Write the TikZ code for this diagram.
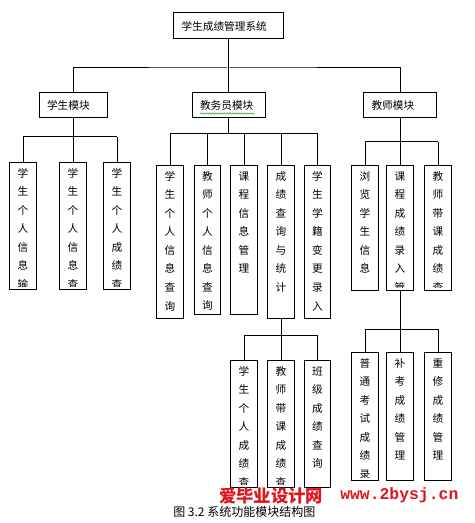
\documentclass[tikz,border=0pt]{standalone}
\usepackage{fontspec}
\newfontfamily\cjk{Noto Sans CJK SC}
\newfontfamily\wmono{Liberation Mono}
\usetikzlibrary{decorations.pathmorphing}
\definecolor{wmred}{RGB}{225,20,25}
\definecolor{spellgreen}{RGB}{40,150,40}
\XeTeXlinebreaklocale "zh"
\XeTeXlinebreakskip=0pt plus 1pt

\tikzset{
  modbox/.style={draw, line width=0.75pt, minimum height=18.75pt, inner xsep=6pt,
    inner ysep=0pt, align=left, font=\cjk\fontsize{8}{10}\selectfont},
  leafbox/.style={draw, line width=0.75pt, minimum width=20pt, inner sep=0pt, anchor=north},
  leaftext/.style={anchor=north, inner sep=0pt, text width=9pt, align=center,
    font=\cjk\fontsize{8}{13.9}\selectfont},
  link/.style={line width=0.75pt},
}

\begin{document}
\begin{tikzpicture}[x=0.75pt, y=-0.75pt]
  \useasboundingbox (0,0) rectangle (474,523);

  % Top level
  \node[modbox, text width=70.5pt, minimum height=19.5pt] (root) at (228.5,26) {学生成绩管理系统};

  % Module boxes
  \node[modbox, text width=39pt] (stu) at (73,105.5) {学生模块};
  \node[modbox, text width=42.75pt] (adm) at (228.5,105.5) {教务员模块};
  \node[modbox, text width=42.75pt] (tea) at (400,105.5) {教师模块};

  % spell-check squiggle under the admin label
  \draw[spellgreen, line width=0.4pt, decorate,
    decoration={snake, amplitude=0.5pt, segment length=2.2pt}] (200,113.5) -- (254,113.5);

  % Bus lines
  \coordinate (bus0) at (228.5,68);
  \coordinate (busS) at (73,137);
  \coordinate (busA) at (228.5,134);
  \coordinate (busT) at (400,142);
  \coordinate (busB) at (281,335);
  \coordinate (busC) at (400,329);

  % Function boxes, text clipped at the lower edge as in the original
  \foreach \nm/\cx/\top/\bot/\bus/\txt in {
    s1/23/162/289/busS/学生个人信息输,
    s2/73/162/289/busS/学生个人信息查,
    s3/117/162/289/busS/学生个人成绩查,
    a1/170/165/318/busA/学生个人信息查询,
    a2/207.5/165/314/busA/教师个人信息查询,
    a3/244/165/314/busA/课程信息管理,
    a4/281/165/318/busA/成绩查询与统计,
    a5/317.5/165/318/busA/学生学籍变更录入,
    t1/365/165/290/busT/浏览学生信息,
    t2/400/165/290/busT/课程成绩录入管,
    t3/438/165/290/busT/教师带课成绩查,
    b1/244/360/487/busB/学生个人成绩查,
    b2/281/360/487/busB/教师带课成绩查,
    b3/317.5/360/487/busB/班级成绩查询,
    c1/365/352/480/busC/普通考试成绩录,
    c2/400/352/480/busC/补考成绩管理,
    c3/438/352/480/busC/重修成绩管理
  }{
    \pgfmathsetmacro\hgt{(\bot-\top)*0.75}
    \node[leafbox, minimum height=\hgt pt] (\nm) at (\cx,\top) {};
    \begin{scope}
      \clip (\nm.north west) rectangle ([yshift=2.5pt]\nm.south east);
      \node[leaftext] (\nm t) at ([yshift=-4.5pt]\nm.north) {\txt};
    \end{scope}
    \draw[link] (\nm.north) -- (\nm.north |- \bus);
  }

  % Tree connectors
  \draw[link] (root.south) -- (adm.north);
  \draw[link] (stu.north) |- (bus0) -| (tea.north);
  \draw[link] (stu.south) -- (busS);
  \draw[link] (s1.north |- busS) -- (s3.north |- busS);
  \draw[link] (adm.south) -- (busA);
  \draw[link] (a1.north |- busA) -- (a5.north |- busA);
  \draw[link] (tea.south) -- (busT);
  \draw[link] (t1.north |- busT) -- (t3.north |- busT);
  \draw[link] (a4.south) -- (busB);
  \draw[link] (b1.north |- busB) -- (b3.north |- busB);
  \draw[link] (t2.south) -- (busC);
  \draw[link] (c1.north |- busC) -- (c3.north |- busC);

  % Watermark and caption
  \node[anchor=west, wmred, inner sep=0pt, font=\cjk\bfseries\fontsize{13}{14}\selectfont]
    (wm) at (219,496) {爱毕业设计网};
  \node[anchor=west, wmred, inner sep=0pt, font=\wmono\bfseries\fontsize{12.3}{14}\selectfont]
    (wmurl) at (340,495) {www.2bysj.cn};
  \node[anchor=west, inner sep=0pt, font=\cjk\fontsize{9}{10}\selectfont]
    (cap) at (173,512) {图 3.2 系统功能模块结构图};
\end{tikzpicture}
\end{document}
